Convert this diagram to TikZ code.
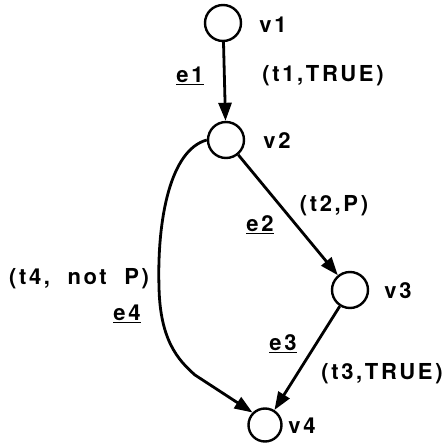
\documentclass[tikz,border=0pt]{standalone}
\usepackage{fontspec}
\usepackage{tikz}
\usetikzlibrary{arrows.meta,positioning}
\newfontfamily\lblfont{TeX Gyre Heros}[LetterSpace=12]

\tikzset{
  vertex/.style={draw, circle, line width=2.4pt, minimum size=36pt, inner sep=0pt},
  arc/.style={line width=2.8pt, -{Triangle[length=18pt,width=13pt]}},
  lbl/.style={font=\lblfont\bfseries\fontsize{22}{26}\selectfont, inner sep=0pt},
}

\begin{document}
\begin{tikzpicture}[x=1pt, y=-1pt]
\useasboundingbox (0,0) rectangle (444,443);

% vertices
\node[vertex] (v1) at (223,23) {};
\node[vertex] (v2) at (226,140) {};
\node[vertex] (v3) at (350,290) {};
\node[vertex, minimum size=33pt] (v4) at (265,425) {};

\node[lbl] (v1name) at (273,25) {v1};
\node[lbl] (v2name) at (277,141) {v2};
\node[lbl] (v3name) at (398,291) {v3};
\node[lbl] (v4name) at (302,426) {v4};

% edges
\draw[arc] (v1) -- (v2);
\draw[arc] (v2) -- (v3);
\draw[arc] (v3) -- (v4);
\draw[arc] (v2.west) .. controls (170,150) and (157,220) .. (159,287)
  .. controls (160,340) and (178,360) .. (195,375) -- (v4.north west);

% edge labels
\node[lbl] (e1) at (190,76) {\underline{e1}};
\node[lbl] (c1) at (323,76) {(t1,TRUE)};
\node[lbl] (e2) at (260,225) {\underline{e2}};
\node[lbl] (c2) at (334,206) {(t2,P)};
\node[lbl] (e3) at (283,344) {\underline{e3}};
\node[lbl] (c3) at (382,374) {(t3,TRUE)};
\node[lbl] (e4) at (127,314) {\underline{e4}};
\node[lbl] (c4) at (79,279) {(t4,\ \ not\ \ P)};
\end{tikzpicture}
\end{document}
